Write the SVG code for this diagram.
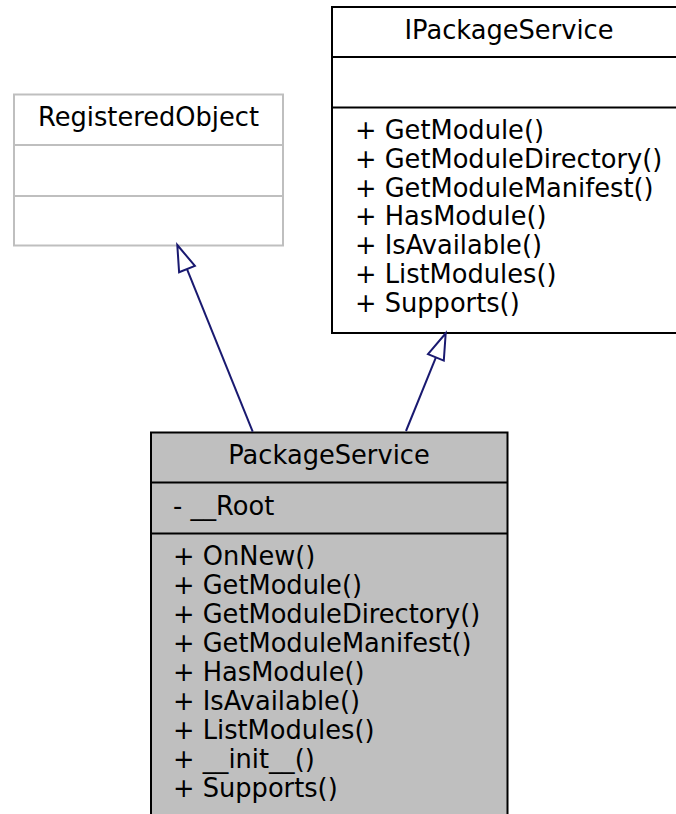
<svg xmlns="http://www.w3.org/2000/svg" width="676" height="814" viewBox="0 0 676 814">
<style>
  text { font-family: "DejaVu Sans", "Liberation Sans", sans-serif; font-size: 25.7px; fill: #000; }
  .c { text-anchor: middle; }
  .box { fill: #fff; stroke: #000; stroke-width: 2; }
  .gray { fill: #fff; stroke: #bfbfbf; stroke-width: 2; }
  .main { fill: #bfbfbf; stroke: #000; stroke-width: 2; }
  .edge { fill: none; stroke: #191970; stroke-width: 2; }
  .head { fill: #fff; stroke: #191970; stroke-width: 2; }
</style>
<rect width="676" height="814" fill="#fff"/>
<g id="RegisteredObject">
  <rect class="gray" x="14" y="94.5" width="269" height="151"/>
  <line class="gray" x1="14" y1="145" x2="283" y2="145"/>
  <line class="gray" x1="14" y1="196" x2="283" y2="196"/>
  <text class="c" x="148.5" y="126">RegisteredObject</text>
</g>
<g id="IPackageService">
  <rect class="box" x="332" y="7" width="354" height="326"/>
  <line class="box" x1="332" y1="57" x2="686" y2="57"/>
  <line class="box" x1="332" y1="107.5" x2="686" y2="107.5"/>
  <text class="c" x="509" y="38.5">IPackageService</text>
  <text x="355" y="139">+ GetModule()</text>
  <text x="355" y="167.8">+ GetModuleDirectory()</text>
  <text x="355" y="196.6">+ GetModuleManifest()</text>
  <text x="355" y="225.4">+ HasModule()</text>
  <text x="355" y="254.2">+ IsAvailable()</text>
  <text x="355" y="283">+ ListModules()</text>
  <text x="355" y="311.8">+ Supports()</text>
</g>
<g id="PackageService">
  <rect class="main" x="151" y="432.5" width="356.5" height="400"/>
  <line class="main" x1="151" y1="482.5" x2="507.5" y2="482.5"/>
  <line class="main" x1="151" y1="533.5" x2="507.5" y2="533.5"/>
  <text class="c" x="329" y="463.5">PackageService</text>
  <text x="173" y="514.5">- __Root</text>
  <text x="173" y="565">+ OnNew()</text>
  <text x="173" y="594">+ GetModule()</text>
  <text x="173" y="623">+ GetModuleDirectory()</text>
  <text x="173" y="652">+ GetModuleManifest()</text>
  <text x="173" y="681">+ HasModule()</text>
  <text x="173" y="710">+ IsAvailable()</text>
  <text x="173" y="739">+ ListModules()</text>
  <text x="173" y="768">+ __init__()</text>
  <text x="173" y="797">+ Supports()</text>
</g>
<g id="connectors">
  <path class="edge" d="M252.7,431.7 L187,269.1"/>
  <polygon class="head" points="177.3,245 194.9,265.9 179.1,272.3"/>
  <path class="edge" d="M406,431 L435.9,357.4"/>
  <polygon class="head" points="445.7,333.3 443.8,360.6 428,354.2"/>
</g>
</svg>
